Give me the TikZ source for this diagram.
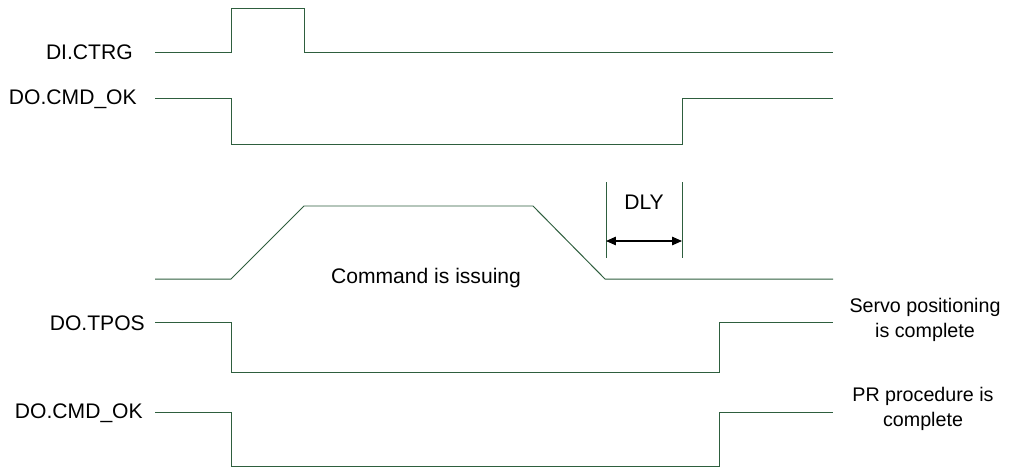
\documentclass[tikz,border=0pt]{standalone}
\usepackage{fontspec}
\setmainfont{Liberation Sans}
\usepackage{xcolor}
\definecolor{WaveGreen}{HTML}{2E5E3E}
\usetikzlibrary{arrows.meta,positioning}

\begin{document}
\begin{tikzpicture}[x=0.025cm,y=-0.025cm,>={Triangle[length=7pt,width=6pt]}, every node/.style={font=\fontsize{15}{18}\selectfont,inner sep=0pt}, wave/.style={draw=WaveGreen,line width=0.7pt}, sig/.style={anchor=east}, note/.style={align=center,font=\fontsize{14}{17.7}\selectfont}]
\useasboundingbox (0,0) rectangle (1016,468);
% signal names
\node[sig] (ctrg) at (133,52) {DI.CTRG};
\node[sig] (cmdA) at (137,99) {DO.CMD\_OK};
\node[sig] (tpos) at (145,323) {DO.TPOS};
\node[sig] (cmdB) at (143,413) {DO.CMD\_OK};
% waveforms
\draw[wave] (155,52) -- (231,52) -- (231,8) -- (304,8) -- (304,52) -- (833,52);
\draw[wave] (155,98) -- (231,98) -- (231,144) -- (682,144) -- (682,98) -- (833,98);
\draw[wave] (155,279) -- (231,279) -- (304,206) -- (533,206) -- (605,279) -- (833,279);
\draw[wave] (155,322) -- (231,322) -- (231,372) -- (719,372) -- (719,322) -- (833,322);
\draw[wave] (155,412) -- (231,412) -- (231,466) -- (719,466) -- (719,412) -- (833,412);
% delay marker
\coordinate (dlyL) at (606,241);
\coordinate (dlyR) at (682,241);
\draw[wave] (606,182) -- (606,258);
\draw[wave] (682,182) -- (682,258);
\draw[<->,thick] (dlyL) -- (dlyR);
\node (dly) at (644,202) {DLY};
% notes
\node (issue) at (426,278) {Command is issuing};
\node[note] (servo) at (925,320) {Servo positioning\\is complete};
\node[note] (prdone) at (923,409) {PR procedure is\\complete};
\end{tikzpicture}
\end{document}
